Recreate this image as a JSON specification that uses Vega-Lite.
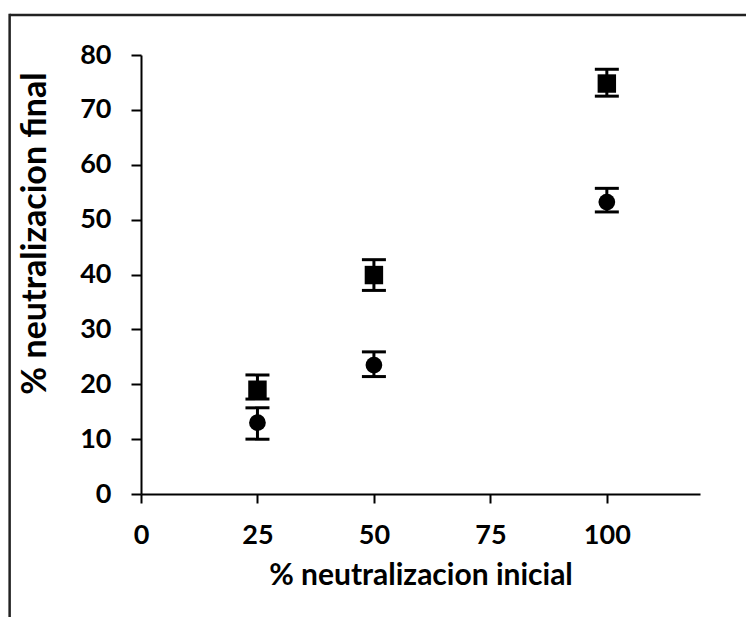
{
  "$schema": "https://vega.github.io/schema/vega-lite/v6.json",
  "autosize": {"type": "none"},
  "width": 559,
  "height": 439,
  "padding": {"left": 141, "top": 55, "right": 46, "bottom": 123},
  "background": "white",
  "config": {
    "view": {"stroke": null},
    "axisX": {"grid": false, "domainColor": "black", "domainWidth": 2, "tickColor": "black", "tickWidth": 2, "tickSize": 9,
      "labelFont": "Lato", "labelFontWeight": "bold", "labelFontSize": 27, "labelColor": "black", "labelPadding": 19, "labelFlush": false,
      "titleFont": "Lato", "titleFontWeight": "bold", "titleFontSize": 30, "titleColor": "black", "titlePadding": 12},
    "axisY": {"grid": false, "domainColor": "black", "domainWidth": 2, "tickColor": "black", "tickWidth": 2, "tickSize": 10,
      "labelFont": "Lato", "labelFontWeight": "bold", "labelFontSize": 27, "labelColor": "black", "labelPadding": 20,
      "titleFont": "Lato", "titleFontWeight": "bold", "titleFontSize": 34, "titleColor": "black", "titlePadding": 27, "titleY": 178}
  },
  "datasets": {
    "puntos": [
      {"x": 25, "y": 19.0, "lo": 17.3, "hi": 21.7, "serie": "A"},
      {"x": 50, "y": 39.9, "lo": 37.1, "hi": 42.7, "serie": "A"},
      {"x": 100, "y": 74.8, "lo": 72.5, "hi": 77.4, "serie": "A"},
      {"x": 25, "y": 13.0, "lo": 10.0, "hi": 15.7, "serie": "B"},
      {"x": 50, "y": 23.5, "lo": 21.4, "hi": 25.9, "serie": "B"},
      {"x": 100, "y": 53.2, "lo": 51.4, "hi": 55.7, "serie": "B"}
    ],
    "marco": [{"borde": "marco"}]
  },
  "layer": [
    {"data": {"name": "puntos"},
      "mark": {"type": "rule", "color": "black", "strokeWidth": 3},
      "encoding": {
        "x": {"field": "x", "type": "quantitative",
          "scale": {"domain": [0, 120], "nice": false},
          "axis": {"values": [0, 25, 50, 75, 100], "title": "% neutralizacion inicial"}},
        "y": {"field": "lo", "type": "quantitative",
          "scale": {"domain": [0, 80], "nice": false},
          "axis": {"values": [0, 10, 20, 30, 40, 50, 60, 70, 80], "title": "% neutralizacion final"}},
        "y2": {"field": "hi"}}},
    {"data": {"name": "puntos"},
      "mark": {"type": "tick", "orient": "horizontal", "color": "black", "opacity": 1, "size": 24, "thickness": 3},
      "encoding": {"x": {"field": "x", "type": "quantitative"}, "y": {"field": "lo", "type": "quantitative"}}},
    {"data": {"name": "puntos"},
      "mark": {"type": "tick", "orient": "horizontal", "color": "black", "opacity": 1, "size": 24, "thickness": 3},
      "encoding": {"x": {"field": "x", "type": "quantitative"}, "y": {"field": "hi", "type": "quantitative"}}},
    {"data": {"name": "puntos"},
      "mark": {"type": "point", "filled": true, "opacity": 1, "color": "black"},
      "encoding": {
        "x": {"field": "x", "type": "quantitative"},
        "y": {"field": "y", "type": "quantitative"},
        "shape": {"field": "serie", "type": "nominal", "scale": {"domain": ["A", "B"], "range": ["square", "circle"]}, "legend": null},
        "size": {"field": "serie", "type": "nominal", "scale": {"domain": ["A", "B"], "range": [340, 280]}, "legend": null}
      }},
    {"data": {"name": "marco"},
      "mark": {"type": "rule", "color": "#222222", "strokeWidth": 2.5, "clip": false},
      "encoding": {"x": {"datum": -28.2, "type": "quantitative"}, "x2": {"datum": 140}, "y": {"datum": 87.3, "type": "quantitative"}}},
    {"data": {"name": "marco"},
      "mark": {"type": "rule", "color": "#222222", "strokeWidth": 2.5, "clip": false},
      "encoding": {"x": {"datum": -28.2, "type": "quantitative"}, "y": {"datum": 87.5, "type": "quantitative"}, "y2": {"datum": -30}}}
  ]
}
